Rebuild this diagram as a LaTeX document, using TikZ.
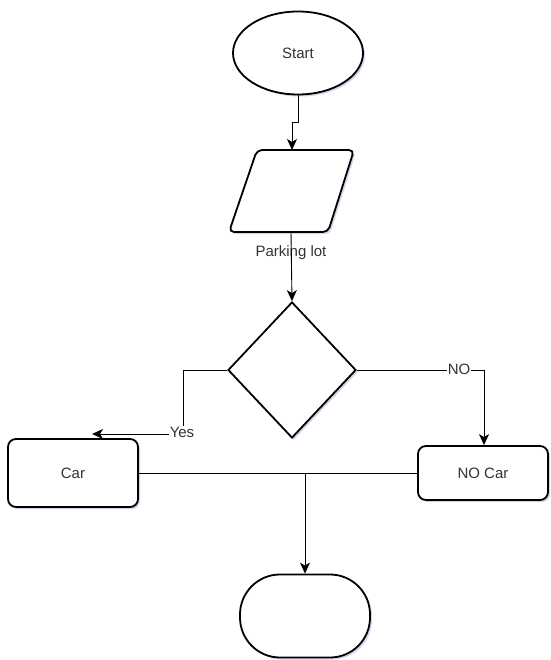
\documentclass[tikz,border=0pt]{standalone}
\usepackage{fontspec}
\setmainfont{Liberation Sans}
\usetikzlibrary{shapes.geometric,arrows.meta,shadows}
\begin{document}
\begin{tikzpicture}[x=1pt,y=-1pt,
  every node/.style={font=\fontsize{15}{18}\selectfont, text=black!80},
  shp/.style={draw=black, line width=1.8pt, fill=white, inner sep=0pt,
    drop shadow={shadow xshift=2pt, shadow yshift=-2pt, opacity=0.25, fill=blue!40!gray}},
  conn/.style={draw=black, line width=0.9pt},
  arr/.style={conn, -{Stealth[length=11pt,width=10pt,inset=3pt]}},
  lbl/.style={fill=white, inner sep=1pt}
]
\useasboundingbox (0,0) rectangle (550,660);

\node[shp, ellipse, minimum width=130pt, minimum height=83pt] (start) at (298,53) {Start};
\path[shp, rounded corners=5pt] (257,150) -- (354,150) -- (328,232) -- (229,232) -- cycle;
\coordinate (paratop) at (292,150);
\coordinate (parabot) at (291,232);
\node (plabel) at (291,253) {Parking lot};
\node[shp, diamond, minimum width=128pt, minimum height=136pt] (dec) at (292,370) {};
\node[shp, rectangle, rounded corners=8pt, minimum width=130pt, minimum height=68pt] (car) at (73,473) {Car};
\node[shp, rectangle, rounded corners=8pt, minimum width=130pt, minimum height=54pt] (nocar) at (483,473) {NO Car};
\node[shp, rectangle, rounded corners=40pt, minimum width=130pt, minimum height=83pt] (end) at (305,616) {};

\coordinate (j1) at (298,122);
\coordinate (j2) at (292,122);
\draw[arr] (start.south) -- (j1) -- (j2) -- (paratop);

\draw[arr] (parabot) -- (dec.north);

\coordinate (y1) at (183,370);
\coordinate (y2) at (183,434);
\coordinate (ytip) at (92,434);
\draw[arr] (dec.west) -- (y1) -- (y2) -- (ytip);
\node[lbl] (yes) at (182,432) {Yes};

\coordinate (n1) at (484,370);
\draw[arr] (dec.east) -- (n1) -- (nocar.north -| n1);
\node[lbl] (no) at (459,369) {NO};

\draw[conn] (car.east) -- (nocar.west);
\coordinate (m) at (305,473);
\draw[arr] (m) -- (end.north);
\end{tikzpicture}
\end{document}
